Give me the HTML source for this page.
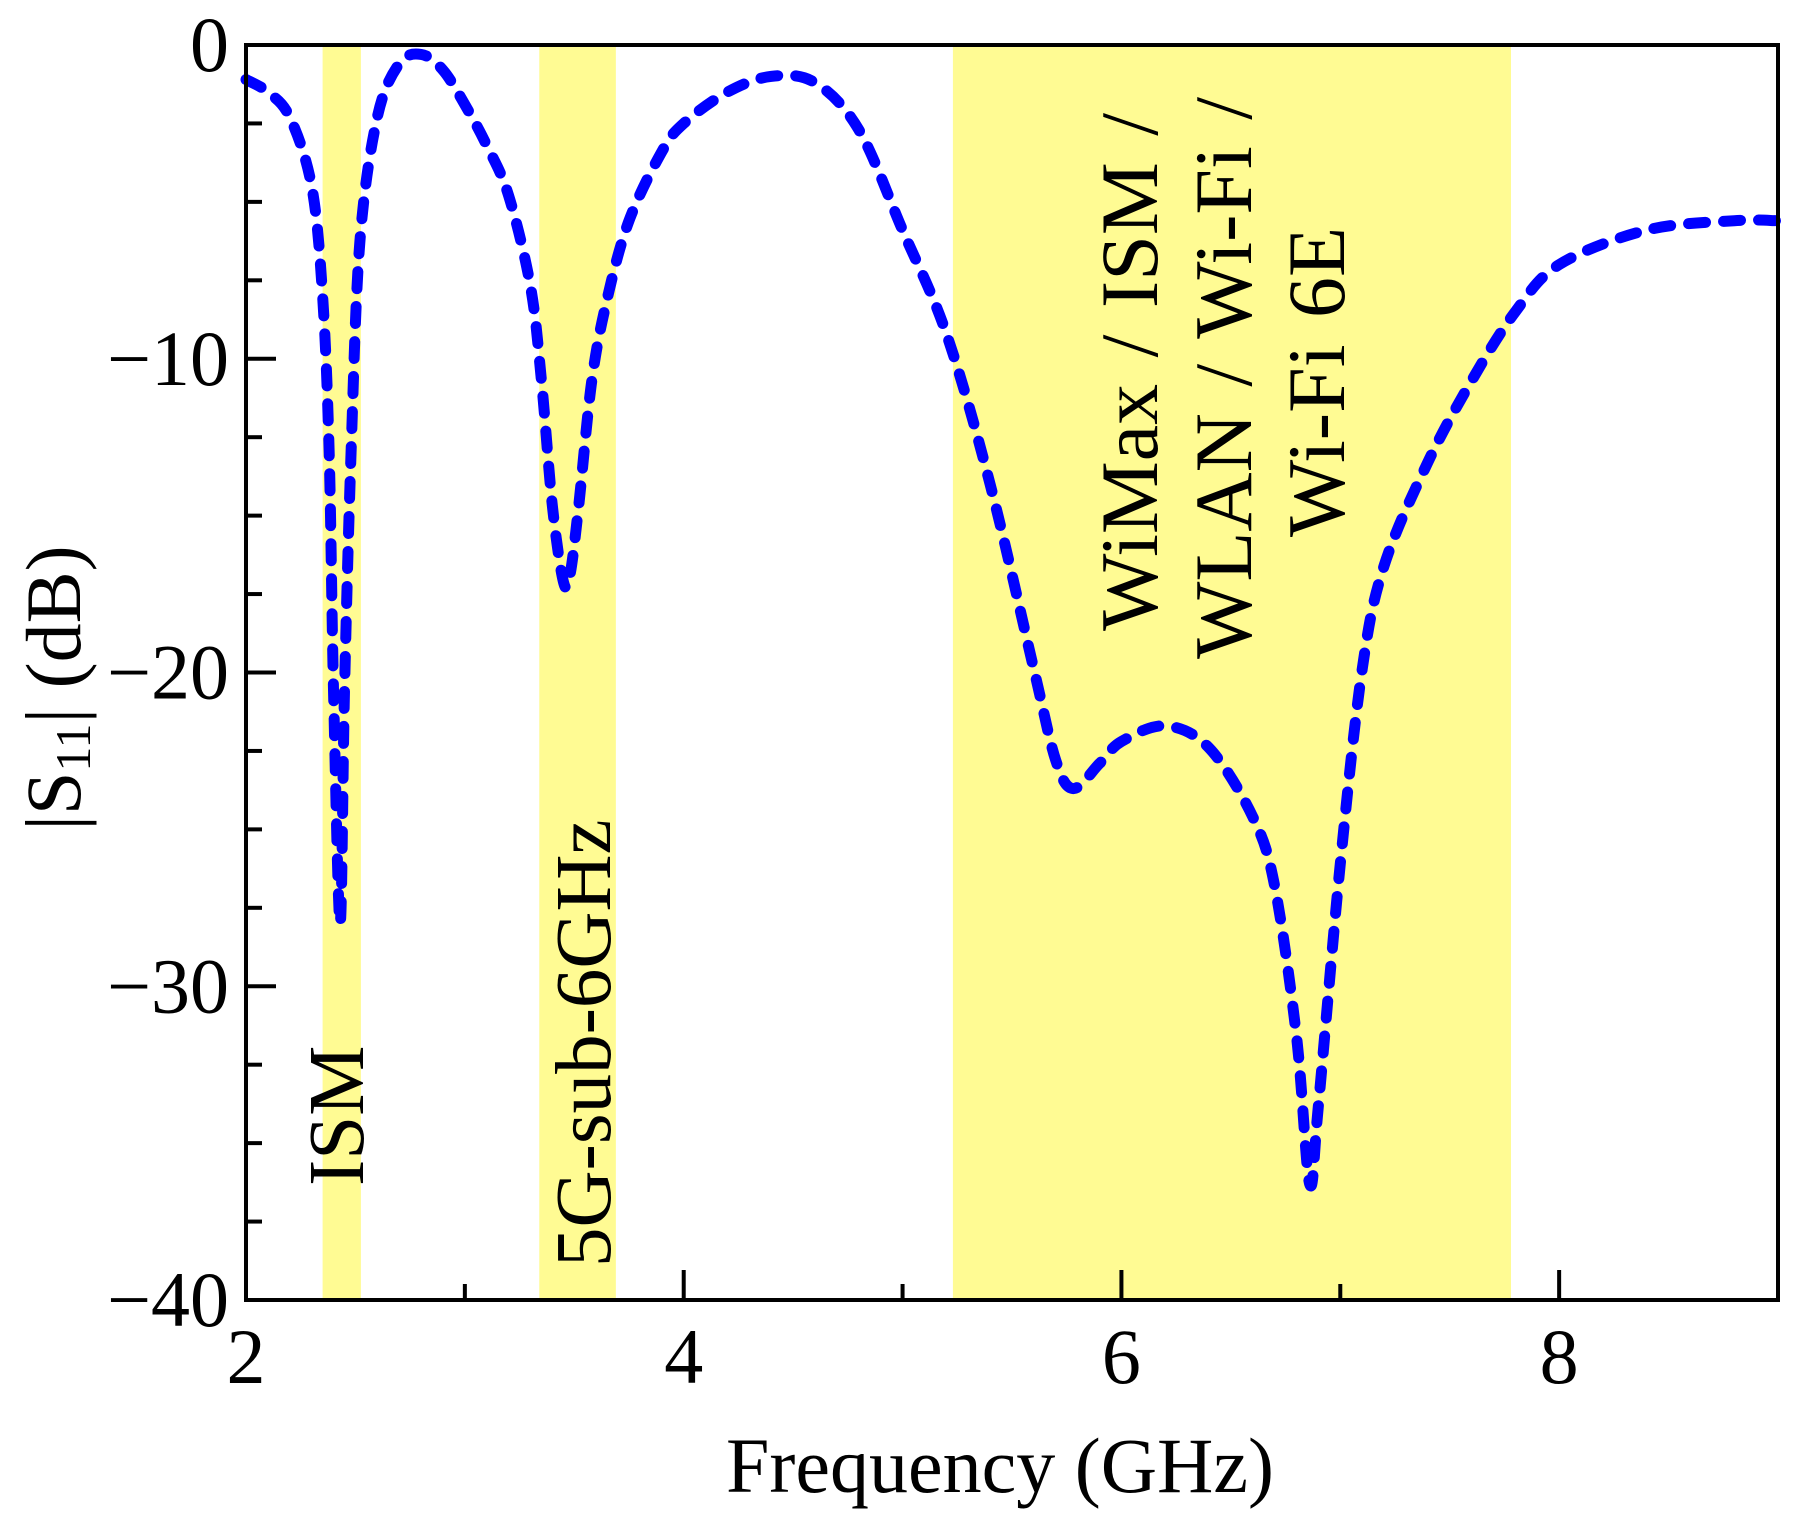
<!DOCTYPE html>
<html><head><meta charset="utf-8"><style>
html,body{margin:0;padding:0;background:#fff;}
svg{display:block;font-family:"Liberation Serif",serif;}
</style></head><body>
<svg id="chart" width="1805" height="1535" viewBox="0 0 1805 1535" xmlns="http://www.w3.org/2000/svg">
<g id="bands"></g>
<g id="curve"></g>
<g id="axes"></g>
<g id="labels"></g>
</svg>
<script>
const freqs = [2.0,2.1,2.2,2.3,2.35,2.38,2.4,2.43,2.45,2.48,2.52,2.6,2.7,2.8,2.9,3.0,3.1,3.2,3.3,3.35,3.4,3.45,3.48,3.52,3.58,3.65,3.75,3.9,4.0,4.2,4.4,4.6,4.8,5.0,5.2,5.4,5.6,5.7,5.78,5.9,6.0,6.2,6.4,6.6,6.7,6.8,6.86,6.9,7.0,7.1,7.2,7.4,7.6,7.8,8.0,8.4,8.8,9.0];
const s11 = [-1.1,-1.5,-2.3,-4.5,-8,-13,-20.6,-28,-20.6,-13,-6.3,-2.3,-0.6,-0.3,-0.8,-1.9,-3.2,-4.8,-7.7,-10.7,-14.7,-17.1,-16.9,-14.7,-10.7,-8.1,-5.6,-3.4,-2.5,-1.5,-1.0,-1.2,-2.7,-5.9,-9.2,-14,-19.9,-22.8,-23.7,-22.9,-22.2,-21.7,-22.4,-24.6,-26.8,-31.6,-36.3,-33.8,-26.1,-19.9,-16.6,-13.3,-10.7,-8.5,-7.0,-5.9,-5.6,-5.6];
const bandStarts = [2.35,3.34,5.23];
const bandEnds = [2.525,3.69,7.78];
const xTicks = [2,4,6,8];
const xMinor = [3,5,7];
const yTicks = [0,-10,-20,-30,-40];
const yMinor = [-2.5,-5,-7.5,-12.5,-15,-17.5,-22.5,-25,-27.5,-32.5,-35,-37.5];

const X0=246,X1=1778,Y0=45,Y1=1300;
const xS=f=>X0+(f-2)/7*(X1-X0);
const yS=d=>Y0+(-d)/40*(Y1-Y0);
const NS="http://www.w3.org/2000/svg";
function mk(tag,attrs,parent){const e=document.createElementNS(NS,tag);for(const k in attrs)e.setAttribute(k,attrs[k]);parent.appendChild(e);return e;}

const bands=document.getElementById('bands');
bandStarts.forEach((s,i)=>{
  const r=mk('rect',{x:xS(s),y:Y0,width:xS(bandEnds[i])-xS(s),height:Y1-Y0,fill:'#fffb93'},bands);
  
  
});

const pts=freqs.map((f,i)=>[xS(f),yS(s11[i])]);
let d='M'+pts[0][0]+','+pts[0][1];
for(let i=0;i<pts.length-1;i++){
  const p0=pts[Math.max(0,i-1)],p1=pts[i],p2=pts[i+1],p3=pts[Math.min(pts.length-1,i+2)];
  const c1=[p1[0]+(p2[0]-p0[0])/6,p1[1]+(p2[1]-p0[1])/6];
  const c2=[p2[0]-(p3[0]-p1[0])/6,p2[1]-(p3[1]-p1[1])/6];
  d+=' C'+c1[0]+','+c1[1]+' '+c2[0]+','+c2[1]+' '+p2[0]+','+p2[1];
}
const curve=mk('path',{d:d,fill:'none',stroke:'#0000ff','stroke-width':11,'stroke-dasharray':'17 18','stroke-linecap':'round'},document.getElementById('curve'));



const axes=document.getElementById('axes');
const frame=mk('rect',{x:X0,y:Y0,width:X1-X0,height:Y1-Y0,fill:'none',stroke:'#000','stroke-width':4},axes);


xTicks.forEach(v=>{
  mk('line',{x1:xS(v),x2:xS(v),y1:Y1,y2:Y1-30,stroke:'#000','stroke-width':4},axes);
  const t=mk('text',{x:xS(v),y:Y1+83,'text-anchor':'middle','font-size':78},axes);
  t.textContent=v;
  
  
});
xMinor.forEach(v=>mk('line',{x1:xS(v),x2:xS(v),y1:Y1,y2:Y1-16,stroke:'#000','stroke-width':4},axes));
yTicks.forEach(v=>{
  mk('line',{x1:X0,x2:X0+30,y1:yS(v),y2:yS(v),stroke:'#000','stroke-width':4},axes);
  const t=mk('text',{x:X0-17,y:yS(v)+26,'text-anchor':'end','font-size':78},axes);
  t.textContent=(v<0?'\u2212':'')+Math.abs(v);
  
  
});
yMinor.forEach(v=>mk('line',{x1:X0,x2:X0+16,y1:yS(v),y2:yS(v),stroke:'#000','stroke-width':4},axes));
</script>
<svg style="position:absolute;left:0;top:0" width="1805" height="1535" xmlns="http://www.w3.org/2000/svg" font-family="Liberation Serif, serif">
<text x="1000" y="1492" text-anchor="middle" font-size="78">Frequency (GHz)</text>
<text transform="translate(80,688) rotate(-90)" text-anchor="middle" font-size="78">|S<tspan font-size="50" dy="10">11</tspan><tspan dy="-10">| (dB)</tspan></text>
<text transform="translate(363,1186) rotate(-90)" font-size="79">ISM</text>
<text transform="translate(610,1267) rotate(-90)" font-size="79">5G-sub-6GHz</text>
<text transform="translate(1157,372) rotate(-90)" text-anchor="middle" font-size="82" word-spacing="6">WiMax / ISM /</text>
<text transform="translate(1251,378) rotate(-90)" text-anchor="middle" font-size="82" word-spacing="6">WLAN / Wi-Fi /</text>
<text transform="translate(1344,382) rotate(-90)" text-anchor="middle" font-size="82" word-spacing="6">Wi-Fi 6E</text>
</svg>
</body></html>
